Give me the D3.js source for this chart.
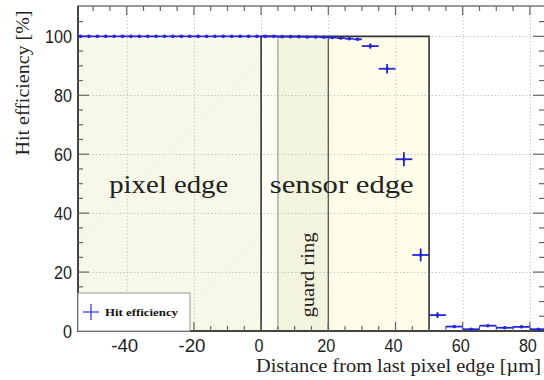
<!DOCTYPE html>
<html><head><meta charset="utf-8">
<script src="https://cdn.jsdelivr.net/npm/d3@7"></script>
<style>body{margin:0;background:#fff}svg{display:block}</style>
</head><body>
<svg id="c" width="544" height="380"></svg>
<script>
// ---- data ----
const binCenters = [-53.75,-51.25,-48.75,-46.25,-43.75,-41.25,-38.75,-36.25,-33.75,-31.25,-28.75,-26.25,-23.75,-21.25,-18.75,-16.25,-13.75,-11.25,-8.75,-6.25,-3.75,-1.25,1.25,3.75,6.25,8.75,11.25,13.75,16.25,18.75,21.25,23.75,26.25,28.75,32.5,37.5,42.5,47.5,52.5,57.5,62.5,67.5,72.5,77.5,82.5];
const binHalfWidths = [1.25,1.25,1.25,1.25,1.25,1.25,1.25,1.25,1.25,1.25,1.25,1.25,1.25,1.25,1.25,1.25,1.25,1.25,1.25,1.25,1.25,1.25,1.25,1.25,1.25,1.25,1.25,1.25,1.25,1.25,1.25,1.25,1.25,1.25,2.5,2.5,2.5,2.5,2.5,2.5,2.5,2.5,2.5,2.5,2.5];
const efficiency = [100,100,100,100,100,100,100,100,100,100,100,100,100,100,100,100,100,100,100,100,100,100,100,100,99.9,99.9,99.9,99.8,99.8,99.7,99.6,99.4,99.2,99.0,96.7,89.0,58.3,25.8,5.4,1.5,0.6,1.8,1.1,1.4,0.6];
const effError = [0.1,0.1,0.1,0.1,0.1,0.1,0.1,0.1,0.1,0.1,0.1,0.1,0.1,0.1,0.1,0.1,0.1,0.1,0.1,0.1,0.1,0.1,0.1,0.1,0.1,0.1,0.1,0.1,0.1,0.2,0.2,0.2,0.3,0.3,0.9,1.6,2.4,2.2,1.0,0.4,0.3,0.4,0.3,0.4,0.3];
const xTicks = [-40,-20,0,20,40,60,80];
const yTicks = [0,20,40,60,80,100];
const regions = [
  {name:"pixel", x0:-54.5, x1:0, fill:"#f9f9ea"},
  {name:"inner", x0:0, x1:5, fill:"#fdfdf3"},
  {name:"guard", x0:5, x1:20, fill:"#f3f5de"},
  {name:"sensor", x0:20, x1:50, fill:"#fdfde9"}
];
const regionLabels = [
  {text:"pixel edge", x:-27.5, y:47, w:119},
  {text:"sensor edge", x:24, y:47, w:144}
];
const guardLabel = {text:"guard ring", x:15.7, y:19, w:85};

// ---- layout ----
const svg = d3.select("#c");
const L=78, R=545, T=6, B=331;
const x = d3.scaleLinear().domain([-54.5,84.5]).range([L,R]);
const y = d3.scaleLinear().domain([0,110.3]).range([B,T]);

const defs = svg.append("defs");
const pat = defs.append("pattern").attr("id","hatch").attr("patternUnits","userSpaceOnUse")
  .attr("width",3).attr("height",3).attr("patternTransform","rotate(45)");
pat.append("line").attr("x1",0).attr("y1",0).attr("x2",0).attr("y2",3)
  .attr("stroke","#ececd8").attr("stroke-width",0.8);
defs.append("clipPath").attr("id","plotclip").append("rect")
  .attr("x",L).attr("y",T).attr("width",R-L).attr("height",B-T);

// regions
svg.append("g").selectAll("rect").data(regions).join("rect")
  .attr("x",d=>x(d.x0)).attr("width",d=>x(d.x1)-x(d.x0))
  .attr("y",y(100)).attr("height",y(0)-y(100)).attr("fill",d=>d.fill);
svg.append("g").selectAll("rect").data(regions.filter(d=>d.name==="pixel"||d.name==="guard")).join("rect")
  .attr("x",d=>x(d.x0)).attr("width",d=>x(d.x1)-x(d.x0))
  .attr("y",y(100)).attr("height",y(0)-y(100)).attr("fill","url(#hatch)").attr("opacity",0.7);

// grid
const grid = svg.append("g").attr("stroke","#c8c8c8").attr("stroke-dasharray","1.5,2").attr("stroke-width",1);
grid.selectAll(".gx").data(xTicks).join("line")
  .attr("x1",d=>x(d)+0.5).attr("x2",d=>x(d)+0.5).attr("y1",T).attr("y2",B);
grid.selectAll(".gy").data(yTicks.filter(d=>d>0)).join("line")
  .attr("x1",L).attr("x2",R).attr("y1",d=>Math.round(y(d))+0.5).attr("y2",d=>Math.round(y(d))+0.5);

// region boundaries
const bnd = svg.append("g").attr("fill","none");
bnd.append("line").attr("x1",x(0)).attr("x2",x(0)).attr("y1",y(100)).attr("y2",B).attr("stroke","#333").attr("stroke-width",1.6);
bnd.append("line").attr("x1",x(5)).attr("x2",x(5)).attr("y1",y(100)).attr("y2",B).attr("stroke","#a0a0a0").attr("stroke-width",1.3);
bnd.append("line").attr("x1",x(20)).attr("x2",x(20)).attr("y1",y(100)).attr("y2",B).attr("stroke","#555").attr("stroke-width",1.3);
bnd.append("path").attr("d",`M${x(0)},${y(100)}H${x(50)}V${B}`).attr("stroke","#333").attr("stroke-width",1.6);

// region labels
const serif = "'Liberation Serif','Times New Roman',serif";
svg.append("g").selectAll("text").data(regionLabels).join("text")
  .attr("x",d=>x(d.x)-d.w/2).attr("y",d=>y(d.y))
  .attr("textLength",d=>d.w).attr("lengthAdjust","spacingAndGlyphs")
  .attr("font-family",serif).attr("font-size",25).attr("fill","#222")
  .text(d=>d.text);
svg.append("text").attr("transform",`translate(${x(guardLabel.x)},${y(guardLabel.y)}) rotate(-90)`)
  .attr("x",-guardLabel.w/2).attr("textLength",guardLabel.w).attr("lengthAdjust","spacingAndGlyphs")
  .attr("font-family",serif).attr("font-size",18).attr("fill","#222")
  .text(guardLabel.text);

// frame & ticks
const frame = svg.append("g");
frame.append("rect").attr("x",L).attr("y",T).attr("width",R-L).attr("height",B-T)
  .attr("fill","none").attr("stroke","#777").attr("stroke-width",1.5);
frame.append("line").attr("x1",L).attr("x2",L).attr("y1",T).attr("y2",B+1).attr("stroke","#444").attr("stroke-width",2);
frame.append("line").attr("x1",L).attr("x2",R).attr("y1",B).attr("y2",B).attr("stroke","#444").attr("stroke-width",2);

const xMinor = d3.range(-50,85,5);
const yMinor = d3.range(5,110,5);
const tk = frame.append("g").attr("stroke","#666").attr("stroke-width",1.2);
xMinor.forEach(v=>{
  const major = v%20===0, len = major?9:5;
  tk.append("line").attr("x1",x(v)).attr("x2",x(v)).attr("y1",B).attr("y2",B-len);
  tk.append("line").attr("x1",x(v)).attr("x2",x(v)).attr("y1",T).attr("y2",T+len);
});
yMinor.forEach(v=>{
  const major = v%20===0, len = major?11:5;
  tk.append("line").attr("x1",L).attr("x2",L+len).attr("y1",y(v)).attr("y2",y(v));
  tk.append("line").attr("x1",R-1).attr("x2",R-1-len).attr("y1",y(v)).attr("y2",y(v));
});

const tickFont = "'Liberation Sans',Arial,sans-serif";
const digitW = 9;
svg.append("g").selectAll("text").data(yTicks).join("text")
  .attr("x",d=>L-6-String(d).length*digitW).attr("y",d=>y(d)+6.5)
  .attr("textLength",d=>String(d).length*digitW).attr("lengthAdjust","spacingAndGlyphs")
  .attr("font-family",tickFont).attr("font-size",18).attr("fill","#222").text(d=>d);
svg.append("g").selectAll("text").data(xTicks).join("text")
  .attr("x",d=>x(d)-2-String(d).length*digitW/2).attr("y",352)
  .attr("textLength",d=>String(d).length*digitW).attr("lengthAdjust","spacingAndGlyphs")
  .attr("font-family",tickFont).attr("font-size",18).attr("fill","#222").text(d=>d);

// axis titles
svg.append("text").attr("x",256).attr("y",372)
  .attr("textLength",285).attr("lengthAdjust","spacingAndGlyphs")
  .attr("font-family",serif).attr("font-size",18).attr("fill","#222")
  .text("Distance from last pixel edge [µm]");
svg.append("text").attr("transform","translate(29,83) rotate(-90)").attr("x",-72.5)
  .attr("textLength",145).attr("lengthAdjust","spacingAndGlyphs")
  .attr("font-family",serif).attr("font-size",18).attr("fill","#222")
  .text("Hit efficiency [%]");

// data points
const pts = binCenters.map((c,i)=>({c, h:binHalfWidths[i], v:efficiency[i], e:effError[i]}));
const dg = svg.append("g").attr("clip-path","url(#plotclip)");
const ds = dg.append("g").attr("stroke","#2424d8").attr("stroke-width",1.8);
ds.selectAll(".ex").data(pts).join("line")
  .attr("x1",d=>x(d.c-d.h)).attr("x2",d=>x(d.c+d.h)).attr("y1",d=>y(d.v)).attr("y2",d=>y(d.v));
ds.selectAll(".ey").data(pts.filter(d=>y(d.v-d.e)-y(d.v+d.e)>1.5)).join("line")
  .attr("x1",d=>x(d.c)).attr("x2",d=>x(d.c)).attr("y1",d=>y(d.v-d.e)).attr("y2",d=>y(d.v+d.e));
dg.append("g").selectAll("circle").data(pts).join("circle")
  .attr("cx",d=>x(d.c)).attr("cy",d=>y(d.v)).attr("r",1.8).attr("fill","#2424d8");

// legend
const lg = svg.append("g");
lg.append("rect").attr("x",L).attr("y",293).attr("width",112).attr("height",B-293)
  .attr("fill","#fff").attr("stroke","#999").attr("stroke-width",1);
lg.append("line").attr("x1",L+5).attr("x2",L+21).attr("y1",312).attr("y2",312).attr("stroke","#4a4aee").attr("stroke-width",1.4);
lg.append("line").attr("x1",L+13).attr("x2",L+13).attr("y1",304).attr("y2",320).attr("stroke","#4a4aee").attr("stroke-width",1.4);
lg.append("text").attr("x",L+27).attr("y",316).attr("font-family",serif)
  .attr("textLength",73).attr("lengthAdjust","spacingAndGlyphs")
  .attr("font-weight","bold").attr("font-size",11).attr("fill","#111").text("Hit efficiency");
</script>
</body></html>
